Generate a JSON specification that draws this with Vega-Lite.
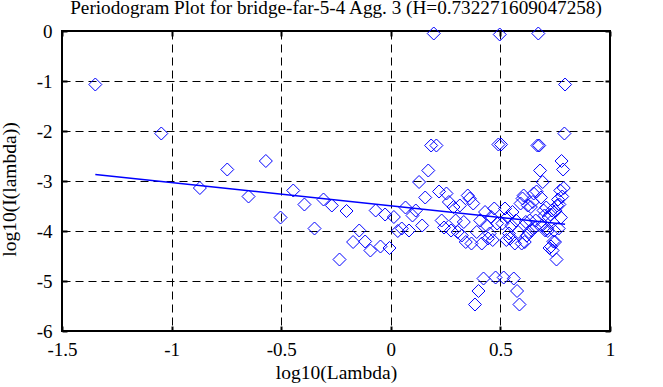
{
  "$schema": "https://vega.github.io/schema/vega-lite/v6.json",
  "width": 548,
  "height": 300,
  "autosize": {"type": "none"},
  "padding": {"left": 62, "top": 31, "right": 53, "bottom": 56},
  "background": "white",
  "config": {
    "font": "Liberation Serif",
    "view": {"stroke": "black", "strokeWidth": 2},
    "axis": {"labelFont": "Liberation Serif", "titleFont": "Liberation Serif", "labelFontSize": 19, "titleFontSize": 19.5, "titleFontWeight": "normal", "labelColor": "black", "titleColor": "black"}
  },
  "title": {"text": "Periodogram Plot for bridge-far-5-4 Agg. 3 (H=0.732271609047258)", "font": "Liberation Serif", "fontSize": 19.2, "fontWeight": "normal", "color": "black", "anchor": "middle", "baseline": "alphabetic", "offset": 7, "dy": 18},
  "datasets": {
    "pts": [
      {"k":1,"x":-1.348,"y":-1.07},{"k":2,"x":-1.047,"y":-2.05},{"k":3,"x":-0.871,"y":-3.14},{"k":4,"x":-0.746,"y":-2.77},{"k":5,"x":-0.649,"y":-3.31},
      {"k":6,"x":-0.570,"y":-2.60},{"k":7,"x":-0.503,"y":-3.73},{"k":8,"x":-0.445,"y":-3.19},{"k":9,"x":-0.394,"y":-3.47},{"k":10,"x":-0.348,"y":-3.95},
      {"k":11,"x":-0.307,"y":-3.37},{"k":12,"x":-0.269,"y":-3.49},{"k":13,"x":-0.234,"y":-4.57},{"k":14,"x":-0.202,"y":-3.60},{"k":15,"x":-0.172,"y":-4.22},
      {"k":16,"x":-0.144,"y":-3.99},{"k":17,"x":-0.117,"y":-4.21},{"k":18,"x":-0.093,"y":-4.39},{"k":19,"x":-0.069,"y":-3.59},{"k":20,"x":-0.047,"y":-4.31},
      {"k":21,"x":-0.026,"y":-3.67},{"k":22,"x":-0.006,"y":-4.34},{"k":23,"x":0.014,"y":-3.72},{"k":24,"x":0.032,"y":-4.00},{"k":25,"x":0.050,"y":-3.95},
      {"k":26,"x":0.067,"y":-3.53},{"k":27,"x":0.083,"y":-3.99},{"k":28,"x":0.099,"y":-3.69},{"k":29,"x":0.114,"y":-3.59},{"k":30,"x":0.129,"y":-3.02},
      {"k":31,"x":0.143,"y":-3.89},{"k":32,"x":0.157,"y":-3.33},{"k":33,"x":0.171,"y":-2.79},{"k":34,"x":0.184,"y":-2.29},{"k":35,"x":0.196,"y":-0.05},
      {"k":36,"x":0.208,"y":-2.29},{"k":37,"x":0.220,"y":-3.21},{"k":38,"x":0.232,"y":-3.79},{"k":39,"x":0.243,"y":-3.93},{"k":40,"x":0.254,"y":-3.25},
      {"k":41,"x":0.265,"y":-3.42},{"k":42,"x":0.275,"y":-3.99},{"k":43,"x":0.286,"y":-3.52},{"k":44,"x":0.296,"y":-3.79},{"k":45,"x":0.305,"y":-4.02},
      {"k":46,"x":0.315,"y":-3.49},{"k":47,"x":0.324,"y":-4.09},{"k":48,"x":0.333,"y":-3.82},{"k":49,"x":0.342,"y":-4.22},{"k":50,"x":0.351,"y":-3.29},
      {"k":51,"x":0.360,"y":-3.35},{"k":52,"x":0.368,"y":-4.25},{"k":53,"x":0.376,"y":-3.45},{"k":54,"x":0.384,"y":-5.47},{"k":55,"x":0.392,"y":-4.02},
      {"k":56,"x":0.400,"y":-5.20},{"k":57,"x":0.408,"y":-3.79},{"k":58,"x":0.415,"y":-4.25},{"k":59,"x":0.423,"y":-4.95},{"k":60,"x":0.430,"y":-3.62},
      {"k":61,"x":0.437,"y":-3.89},{"k":62,"x":0.444,"y":-4.15},{"k":63,"x":0.451,"y":-4.05},{"k":64,"x":0.458,"y":-3.72},{"k":65,"x":0.465,"y":-4.18},
      {"k":66,"x":0.472,"y":-3.55},{"k":67,"x":0.478,"y":-4.93},{"k":68,"x":0.485,"y":-3.85},{"k":69,"x":0.491,"y":-2.27},{"k":70,"x":0.497,"y":-0.07},
      {"k":71,"x":0.503,"y":-2.27},{"k":72,"x":0.509,"y":-3.85},{"k":73,"x":0.515,"y":-4.93},{"k":74,"x":0.521,"y":-3.55},{"k":75,"x":0.527,"y":-4.18},
      {"k":76,"x":0.533,"y":-3.72},{"k":77,"x":0.539,"y":-4.05},{"k":78,"x":0.544,"y":-4.15},{"k":79,"x":0.550,"y":-3.89},{"k":80,"x":0.555,"y":-3.62},
      {"k":81,"x":0.561,"y":-4.95},{"k":82,"x":0.566,"y":-4.25},{"k":83,"x":0.571,"y":-3.79},{"k":84,"x":0.576,"y":-5.20},{"k":85,"x":0.581,"y":-4.02},
      {"k":86,"x":0.587,"y":-5.47},{"k":87,"x":0.592,"y":-3.45},{"k":88,"x":0.597,"y":-4.25},{"k":89,"x":0.601,"y":-3.35},{"k":90,"x":0.606,"y":-3.29},
      {"k":91,"x":0.611,"y":-4.22},{"k":92,"x":0.616,"y":-3.82},{"k":93,"x":0.621,"y":-4.09},{"k":94,"x":0.625,"y":-3.49},{"k":95,"x":0.630,"y":-4.02},
      {"k":96,"x":0.634,"y":-3.79},{"k":97,"x":0.639,"y":-3.52},{"k":98,"x":0.643,"y":-3.99},{"k":99,"x":0.648,"y":-3.42},{"k":100,"x":0.652,"y":-3.25},
      {"k":101,"x":0.656,"y":-3.93},{"k":102,"x":0.661,"y":-3.79},{"k":103,"x":0.665,"y":-3.21},{"k":104,"x":0.669,"y":-2.29},{"k":105,"x":0.673,"y":-0.05},
      {"k":106,"x":0.677,"y":-2.29},{"k":107,"x":0.681,"y":-2.79},{"k":108,"x":0.685,"y":-3.33},{"k":109,"x":0.689,"y":-3.89},{"k":110,"x":0.693,"y":-3.02},
      {"k":111,"x":0.697,"y":-3.59},{"k":112,"x":0.701,"y":-3.69},{"k":113,"x":0.705,"y":-3.99},{"k":114,"x":0.709,"y":-3.53},{"k":115,"x":0.713,"y":-3.95},
      {"k":116,"x":0.716,"y":-4.00},{"k":117,"x":0.720,"y":-3.72},{"k":118,"x":0.724,"y":-4.34},{"k":119,"x":0.728,"y":-3.67},{"k":120,"x":0.731,"y":-4.31},
      {"k":121,"x":0.735,"y":-3.59},{"k":122,"x":0.738,"y":-4.39},{"k":123,"x":0.742,"y":-4.21},{"k":124,"x":0.745,"y":-3.99},{"k":125,"x":0.749,"y":-4.22},
      {"k":126,"x":0.752,"y":-3.60},{"k":127,"x":0.756,"y":-4.57},{"k":128,"x":0.759,"y":-3.49},{"k":129,"x":0.763,"y":-3.37},{"k":130,"x":0.766,"y":-3.95},
      {"k":131,"x":0.769,"y":-3.47},{"k":132,"x":0.773,"y":-3.19},{"k":133,"x":0.776,"y":-3.73},{"k":134,"x":0.779,"y":-2.60},{"k":135,"x":0.782,"y":-3.31},
      {"k":136,"x":0.786,"y":-2.77},{"k":137,"x":0.789,"y":-3.14},{"k":138,"x":0.792,"y":-2.05},{"k":139,"x":0.795,"y":-1.07}
    ],
    "fit": [
      {"x": -1.348, "y": -2.87},
      {"x": 0.795, "y": -3.865}
    ]
  },
  "resolve": {"axis": {"x": "independent", "y": "independent"}},
  "layer": [
    {
      "data": {"name": "pts"},
      "mark": {"type": "point", "shape": "diamond", "size": 169, "filled": false, "stroke": "#0000ff", "strokeWidth": 1, "opacity": 1},
      "encoding": {
        "x": {"field": "x", "type": "quantitative", "scale": {"domain": [-1.5, 1], "nice": false, "zero": false},
          "axis": {"orient": "bottom", "values": [-1.5, -1, -0.5, 0, 0.5, 1], "labelExpr": "'' + datum.value", "title": "log10(Lambda)",
            "grid": true, "gridColor": "black", "gridDash": [8, 5], "gridWidth": 1, "gridOpacity": 1, "domain": false,
            "ticks": true, "tickSize": -5, "tickWidth": 2, "tickColor": "black", "labelPadding": 29, "labelBaseline": "alphabetic", "labelFlush": false,
            "titleBaseline": "alphabetic", "titleY": 47, "titlePadding": 0}},
        "y": {"field": "y", "type": "quantitative", "scale": {"domain": [-6, 0], "nice": false, "zero": false},
          "axis": {"orient": "left", "values": [-6, -5, -4, -3, -2, -1, 0], "labelExpr": "'' + datum.value", "title": "log10(I(lambda))",
            "grid": true, "gridColor": "black", "gridDash": [8, 5], "gridWidth": 1, "gridOpacity": 1, "domain": false,
            "ticks": true, "tickSize": -5, "tickWidth": 2, "tickColor": "black", "labelPadding": 15, "labelFlush": false,
            "titleBaseline": "alphabetic", "titleX": -47, "titleY": 158, "titleAlign": "center", "titleAngle": -90}}
      }
    },
    {
      "data": {"name": "fit"},
      "mark": {"type": "line", "stroke": "#0000ff", "strokeWidth": 1.5},
      "encoding": {
        "x": {"field": "x", "type": "quantitative", "scale": {"domain": [-1.5, 1], "nice": false, "zero": false},
          "axis": {"orient": "top", "values": [-1.5, -1, -0.5, 0, 0.5, 1], "labels": false, "title": null, "grid": false, "domain": false,
            "ticks": true, "tickSize": -5, "tickWidth": 2, "tickColor": "black"}},
        "y": {"field": "y", "type": "quantitative", "scale": {"domain": [-6, 0], "nice": false, "zero": false},
          "axis": {"orient": "right", "values": [-6, -5, -4, -3, -2, -1, 0], "labels": false, "title": null, "grid": false, "domain": false,
            "ticks": true, "tickSize": -5, "tickWidth": 2, "tickColor": "black"}}
      }
    }
  ]
}
